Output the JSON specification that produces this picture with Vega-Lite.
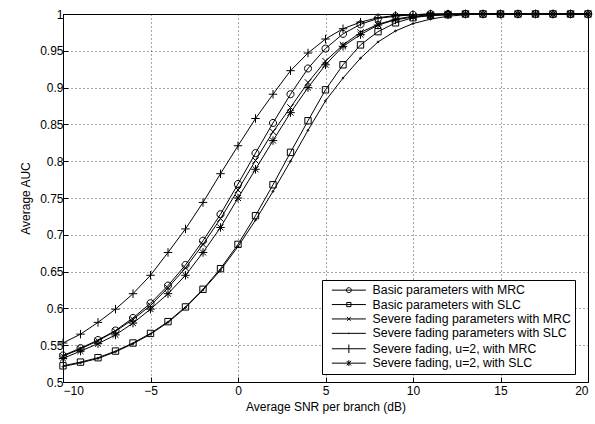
{
  "$schema": "https://vega.github.io/schema/vega-lite/v6.json",
  "width": 525,
  "height": 368,
  "autosize": "none",
  "padding": {"left": 63, "top": 14, "right": 7, "bottom": 42},
  "background": "white",
  "config": {
    "view": {"stroke": "black", "strokeWidth": 1},
    "font": "Liberation Sans",
    "axis": {
      "domainColor": "black",
      "tickColor": "black",
      "labelColor": "black",
      "titleColor": "black",
      "labelFont": "Liberation Sans",
      "titleFont": "Liberation Sans",
      "labelFontSize": 12,
      "titleFontSize": 12,
      "titleFontWeight": "normal",
      "gridColor": "black",
      "gridDash": [1, 3],
      "gridOpacity": 0.7,
      "tickSize": -5
    }
  },
  "data": {
    "values": [
      {"snr": -10, "a": 0.536, "b": 0.522, "c": 0.535, "d": 0.521, "e": 0.553, "f": 0.532},
      {"snr": -9, "a": 0.546, "b": 0.527, "c": 0.545, "d": 0.526, "e": 0.565, "f": 0.542},
      {"snr": -8, "a": 0.557, "b": 0.533, "c": 0.556, "d": 0.532, "e": 0.581, "f": 0.552},
      {"snr": -7, "a": 0.570, "b": 0.542, "c": 0.569, "d": 0.541, "e": 0.599, "f": 0.564},
      {"snr": -6, "a": 0.587, "b": 0.553, "c": 0.585, "d": 0.552, "e": 0.620, "f": 0.580},
      {"snr": -5, "a": 0.607, "b": 0.566, "c": 0.604, "d": 0.565, "e": 0.645, "f": 0.599},
      {"snr": -4, "a": 0.631, "b": 0.582, "c": 0.628, "d": 0.581, "e": 0.676, "f": 0.620},
      {"snr": -3, "a": 0.659, "b": 0.602, "c": 0.655, "d": 0.601, "e": 0.708, "f": 0.645},
      {"snr": -2, "a": 0.692, "b": 0.626, "c": 0.687, "d": 0.625, "e": 0.744, "f": 0.676},
      {"snr": -1, "a": 0.728, "b": 0.654, "c": 0.722, "d": 0.652, "e": 0.783, "f": 0.710},
      {"snr": 0, "a": 0.769, "b": 0.687, "c": 0.761, "d": 0.684, "e": 0.821, "f": 0.750},
      {"snr": 1, "a": 0.811, "b": 0.726, "c": 0.801, "d": 0.720, "e": 0.858, "f": 0.789},
      {"snr": 2, "a": 0.852, "b": 0.768, "c": 0.840, "d": 0.759, "e": 0.891, "f": 0.828},
      {"snr": 3, "a": 0.891, "b": 0.812, "c": 0.873, "d": 0.800, "e": 0.923, "f": 0.866},
      {"snr": 4, "a": 0.926, "b": 0.855, "c": 0.907, "d": 0.842, "e": 0.947, "f": 0.900},
      {"snr": 5, "a": 0.953, "b": 0.897, "c": 0.936, "d": 0.882, "e": 0.966, "f": 0.931},
      {"snr": 6, "a": 0.973, "b": 0.931, "c": 0.958, "d": 0.913, "e": 0.980, "f": 0.956},
      {"snr": 7, "a": 0.986, "b": 0.958, "c": 0.975, "d": 0.940, "e": 0.989, "f": 0.972},
      {"snr": 8, "a": 0.994, "b": 0.976, "c": 0.986, "d": 0.962, "e": 0.995, "f": 0.985},
      {"snr": 9, "a": 0.997, "b": 0.988, "c": 0.993, "d": 0.977, "e": 0.998, "f": 0.992},
      {"snr": 10, "a": 0.999, "b": 0.995, "c": 0.997, "d": 0.987, "e": 0.999, "f": 0.996},
      {"snr": 11, "a": 1.0, "b": 0.998, "c": 0.999, "d": 0.993, "e": 1.0, "f": 0.998},
      {"snr": 12, "a": 1.0, "b": 0.999, "c": 1.0, "d": 0.997, "e": 1.0, "f": 0.999},
      {"snr": 13, "a": 1.0, "b": 1.0, "c": 1.0, "d": 0.999, "e": 1.0, "f": 1.0},
      {"snr": 14, "a": 1.0, "b": 1.0, "c": 1.0, "d": 1.0, "e": 1.0, "f": 1.0},
      {"snr": 15, "a": 1.0, "b": 1.0, "c": 1.0, "d": 1.0, "e": 1.0, "f": 1.0},
      {"snr": 16, "a": 1.0, "b": 1.0, "c": 1.0, "d": 1.0, "e": 1.0, "f": 1.0},
      {"snr": 17, "a": 1.0, "b": 1.0, "c": 1.0, "d": 1.0, "e": 1.0, "f": 1.0},
      {"snr": 18, "a": 1.0, "b": 1.0, "c": 1.0, "d": 1.0, "e": 1.0, "f": 1.0},
      {"snr": 19, "a": 1.0, "b": 1.0, "c": 1.0, "d": 1.0, "e": 1.0, "f": 1.0},
      {"snr": 20, "a": 1.0, "b": 1.0, "c": 1.0, "d": 1.0, "e": 1.0, "f": 1.0}
    ]
  },
  "transform": [
    {"fold": ["a", "b", "c", "d", "e", "f"], "as": ["key", "auc"]},
    {"lookup": "key", "from": {"data": {"values": [
      {"key": "a", "series": "Basic parameters with MRC"},
      {"key": "b", "series": "Basic parameters with SLC"},
      {"key": "c", "series": "Severe fading parameters with MRC"},
      {"key": "d", "series": "Severe fading parameters with SLC"},
      {"key": "e", "series": "Severe fading, u=2, with MRC"},
      {"key": "f", "series": "Severe fading, u=2, with SLC"}
    ]}, "key": "key", "fields": ["series"]}}
  ],
  "encoding": {
    "x": {
      "field": "snr", "type": "quantitative",
      "scale": {"domain": [-10, 20], "nice": false},
      "axis": {"values": [-10, -5, 0, 5, 10, 15, 20], "title": "Average SNR per branch (dB)", "labelPadding": 8, "titlePadding": 5, "grid": true}
    },
    "y": {
      "field": "auc", "type": "quantitative",
      "scale": {"domain": [0.5, 1], "nice": false, "zero": false},
      "axis": {"values": [0.5, 0.55, 0.6, 0.65, 0.7, 0.75, 0.8, 0.85, 0.9, 0.95, 1], "format": ".2~f", "title": "Average AUC", "labelPadding": 5, "titlePadding": 7, "grid": true}
    }
  },
  "resolve": {"scale": {"shape": "independent"}},
  "layer": [
    {
      "mark": {"type": "line", "color": "black", "strokeWidth": 1},
      "encoding": {"detail": {"field": "series"}}
    },
    {
      "mark": {"type": "point", "filled": false, "color": "black", "strokeWidth": 1, "opacity": 1},
      "encoding": {
        "shape": {
          "field": "series", "type": "nominal",
          "scale": {
            "domain": ["Basic parameters with MRC", "Basic parameters with SLC", "Severe fading parameters with MRC", "Severe fading parameters with SLC", "Severe fading, u=2, with MRC", "Severe fading, u=2, with SLC"],
            "range": [
              "M1,0A1,1 0 1,1 -1,0A1,1 0 1,1 1,0",
              "M-0.9,-0.9H0.9V0.9H-0.9Z",
              "M-0.9,-0.9L0.9,0.9M-0.9,0.9L0.9,-0.9",
              "M-0.25,0A0.25,0.25 0 1,0 0.25,0A0.25,0.25 0 1,0 -0.25,0",
              "M0,-1.2V1.2M-1.2,0H1.2",
              "M0,-1.2V1.2M-1.2,0H1.2M-0.85,-0.85L0.85,0.85M-0.85,0.85L0.85,-0.85"
            ]
          },
          "legend": null
        },
        "size": {"value": 50}
      }
    },
    {
      "transform": [{"filter": {"field": "snr", "gt": 100}}],
      "mark": {"type": "point", "filled": false, "color": "black", "strokeWidth": 1, "opacity": 1},
      "encoding": {
        "shape": {
          "field": "series", "type": "nominal",
          "scale": {
            "domain": ["Basic parameters with MRC", "Basic parameters with SLC", "Severe fading parameters with MRC", "Severe fading parameters with SLC", "Severe fading, u=2, with MRC", "Severe fading, u=2, with SLC"],
            "range": [
              "M-3.4,0H3.4M0.5,0A0.5,0.5 0 1,1 -0.5,0A0.5,0.5 0 1,1 0.5,0",
              "M-3.4,0H3.4M-0.42,-0.42H0.42V0.42H-0.42Z",
              "M-3.4,0H3.4M-0.38,-0.38L0.38,0.38M-0.38,0.38L0.38,-0.38",
              "M-3.4,0H3.4M-0.08,0A0.08,0.08 0 1,0 0.08,0A0.08,0.08 0 1,0 -0.08,0",
              "M-3.4,0H3.4M0,-0.85V0.85",
              "M-3.4,0H3.4M0,-0.6V0.6M-0.45,-0.45L0.45,0.45M-0.45,0.45L0.45,-0.45"
            ]
          },
          "legend": {
            "title": null,
            "orient": "none",
            "legendX": 259,
            "legendY": 266,
            "padding": 4,
            "rowPadding": 1.4,
            "strokeColor": "black",
            "fillColor": "white",
            "cornerRadius": 0,
            "symbolSize": 100,
            "symbolOffset": 16.7,
            "labelOffset": 17.6,
            "labelFont": "Liberation Sans",
            "labelFontSize": 12.3,
            "labelColor": "black",
            "labelLimit": 400,
            "symbolStrokeColor": "black",
            "symbolFillColor": "transparent",
            "symbolStrokeWidth": 1
          }
        },
        "size": {"value": 100}
      }
    }
  ]
}
